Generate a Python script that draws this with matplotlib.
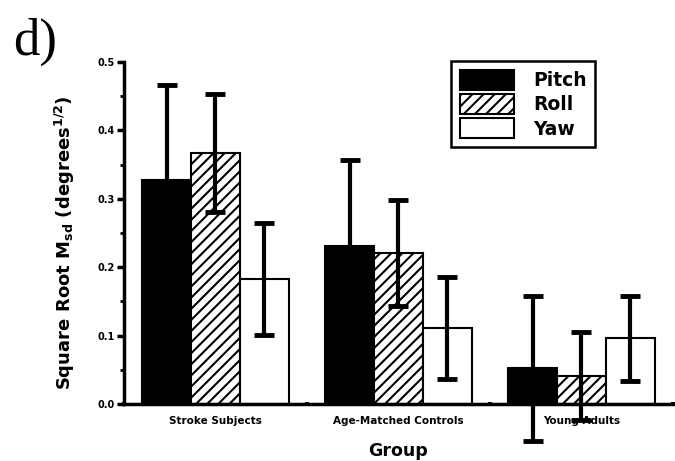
import matplotlib
matplotlib.use("Agg")
import matplotlib.pyplot as plt
import numpy as np
from matplotlib.ticker import MultipleLocator

groups = ["Stroke Subjects", "Age-Matched Controls", "Young Adults"]
series = ["Pitch", "Roll", "Yaw"]
pitch = [0.327, 0.231, 0.052]
pitch_err = [0.139, 0.126, 0.106]
roll = [0.367, 0.221, 0.041]
roll_err = [0.086, 0.077, 0.064]
yaw = [0.183, 0.111, 0.096]
yaw_err = [0.082, 0.075, 0.062]
yticks = [0.0, 0.1, 0.2, 0.3, 0.4, 0.5]

plt.rcParams['font.family'] = ['DejaVu Sans']
plt.rcParams['hatch.linewidth'] = 1.5

fig = plt.figure(figsize=(6.75, 4.61), dpi=100)
ax = fig.add_axes([0.1837, 0.1236, 0.8133, 0.742])

w = 0.267
centers = np.arange(len(groups)) + 0.5
vals = [pitch, roll, yaw]
errs = [pitch_err, roll_err, yaw_err]
faces = ['black', 'white', 'white']
hatches = [None, '///', None]
for i in range(3):
    x = centers + (i - 1) * w
    ax.bar(x, vals[i], width=w, color=faces[i], edgecolor='black',
           linewidth=1.5, hatch=hatches[i], label=series[i], zorder=2)
    ax.errorbar(x, vals[i], yerr=errs[i], fmt='none', ecolor='black',
                elinewidth=3, capsize=7.5, capthick=3.5, clip_on=False, zorder=3)

ax.set_xlim(0, 3)
ax.set_ylim(0, 0.5)
ax.spines['top'].set_visible(False)
ax.spines['right'].set_visible(False)
ax.spines['left'].set_linewidth(2.5)
ax.spines['bottom'].set_linewidth(2.5)
ax.set_yticks(yticks)
ax.set_yticklabels([f"{t:.1f}" for t in yticks], fontsize=7, fontweight='heavy')
ax.yaxis.set_minor_locator(MultipleLocator(0.05))
ax.tick_params(axis='y', which='major', length=5, width=2.5, pad=2)
ax.tick_params(axis='y', which='minor', length=3, width=2)
ax.set_xticks([0, 1, 2, 3])
ax.set_xticklabels([])
ax.tick_params(axis='x', which='major', length=3, width=3, direction='inout')
for c, g in zip(centers, groups):
    ax.text(c, -0.018, g, ha='center', va='top', fontsize=7.5,
            fontweight='heavy', transform=ax.transData)

ax.set_xlabel("Group", fontsize=12.5, fontweight='heavy', labelpad=22)
ax.set_ylabel(r"Square Root M$_{\mathbf{sd}}$ (degrees$^{\mathbf{1/2}}$)",
              fontsize=13, fontweight='heavy', va='center')
ax.yaxis.set_label_coords(-0.107, 0.47)

leg = ax.legend(loc='upper right', bbox_to_anchor=(0.875, 1.03), frameon=True,
                fancybox=False, edgecolor='black', framealpha=1,
                prop={'weight': 'heavy', 'size': 13.5},
                handlelength=2.9, handleheight=1.3, labelspacing=0.2,
                borderpad=0.45, handletextpad=1.0)
leg.get_frame().set_linewidth(1.8)

fig.text(0.02, 0.882, "d)", fontsize=38, family='Liberation Serif')

fig.savefig("out.png", dpi=100)
